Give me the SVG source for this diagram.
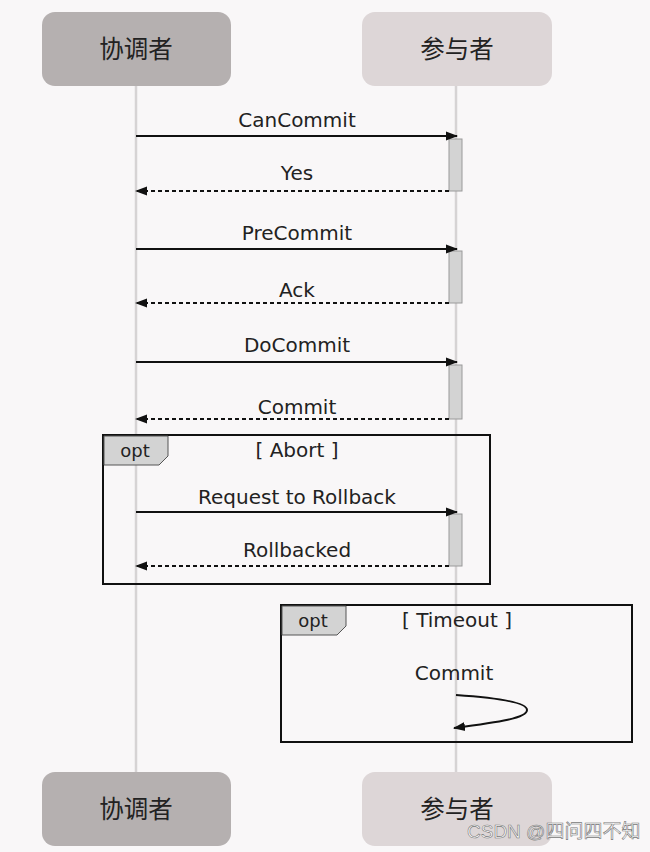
<svg xmlns="http://www.w3.org/2000/svg" width="650" height="852" viewBox="0 0 650 852">
<defs>
<marker id="ah" markerWidth="12" markerHeight="10" refX="11" refY="5" orient="auto" markerUnits="userSpaceOnUse">
<path d="M0,0.5 L12,5 L0,9.5 Z" fill="#111"/>
</marker>
<style>
.bg{fill:#f9f7f8}
.actL{fill:#b5b0b0}
.actR{fill:#ddd6d7}
.cjk{font-family:"Noto Sans CJK SC",sans-serif;font-size:24.5px;fill:#222;text-anchor:middle}
.life{stroke:#d6d3d4;stroke-width:2.5}
.msg{stroke:#111;stroke-width:2;fill:none}
.ret{stroke:#111;stroke-width:2;fill:none;stroke-dasharray:4,3}
.lbl{font-family:"DejaVu Sans",sans-serif;font-size:20px;fill:#222;text-anchor:middle}
.act{fill:#d3d3d3;stroke:#9a9a9a;stroke-width:1}
.frame{fill:none;stroke:#111;stroke-width:2}
.tab{fill:#d3d3d3;stroke:#555;stroke-width:1}
.wm{font-family:"Liberation Sans","Noto Sans CJK SC",sans-serif;font-size:19px;fill:#fff;stroke:#777;stroke-width:0.6}
</style>
</defs>
<rect class="bg" x="0" y="0" width="650" height="852"/>
<g id="lifelines">
<line class="life" x1="136" y1="86" x2="136" y2="772"/>
<line class="life" x1="456" y1="86" x2="456" y2="772"/>
</g>
<g id="coordinator-top"><rect class="actL" x="42" y="12" width="189" height="74" rx="13"/><text class="cjk" x="136" y="58">协调者</text></g>
<g id="participant-top"><rect class="actR" x="362" y="12" width="190" height="74" rx="13"/><text class="cjk" x="457" y="58">参与者</text></g>
<g id="coordinator-bottom"><rect class="actL" x="42" y="772" width="189" height="74" rx="13"/><text class="cjk" x="136" y="818">协调者</text></g>
<g id="participant-bottom"><rect class="actR" x="362" y="772" width="190" height="74" rx="13"/><text class="cjk" x="457" y="818">参与者</text></g>
<g id="activations">
<rect class="act" x="449" y="139" width="13" height="52"/>
<rect class="act" x="449" y="251" width="13" height="52"/>
<rect class="act" x="449" y="365" width="13" height="54"/>
<rect class="act" x="449" y="514" width="13" height="52"/>
</g>
<g id="frame-abort">
<rect class="frame" x="103" y="435" width="387" height="149"/>
<path class="tab" d="M104,436 L168,436 L168,456 L159,465 L104,465 Z"/>
<text class="lbl" x="135" y="457" style="font-size:18px">opt</text>
<text class="lbl" x="297" y="457">[ Abort ]</text>
</g>
<g id="frame-timeout">
<rect class="frame" x="281" y="605" width="351" height="137"/>
<path class="tab" d="M282,606 L346,606 L346,626 L337,635 L282,635 Z"/>
<text class="lbl" x="313" y="627" style="font-size:18px">opt</text>
<text class="lbl" x="457" y="627">[ Timeout ]</text>
</g>
<g id="connectors">
<line class="msg" x1="136" y1="136" x2="457" y2="136" marker-end="url(#ah)"/>
<text class="lbl" x="297" y="127">CanCommit</text>
<line class="ret" x1="449" y1="191" x2="136" y2="191" marker-end="url(#ah)"/>
<text class="lbl" x="297" y="180">Yes</text>
<line class="msg" x1="136" y1="249" x2="457" y2="249" marker-end="url(#ah)"/>
<text class="lbl" x="297" y="240">PreCommit</text>
<line class="ret" x1="449" y1="303" x2="136" y2="303" marker-end="url(#ah)"/>
<text class="lbl" x="297" y="297">Ack</text>
<line class="msg" x1="136" y1="362" x2="457" y2="362" marker-end="url(#ah)"/>
<text class="lbl" x="297" y="352">DoCommit</text>
<line class="ret" x1="449" y1="419" x2="136" y2="419" marker-end="url(#ah)"/>
<text class="lbl" x="297" y="414">Commit</text>
<line class="msg" x1="136" y1="512" x2="457" y2="512" marker-end="url(#ah)"/>
<text class="lbl" x="297" y="504">Request to Rollback</text>
<line class="ret" x1="449" y1="566" x2="136" y2="566" marker-end="url(#ah)"/>
<text class="lbl" x="297" y="557">Rollbacked</text>
<path class="msg" d="M456,695 C500,698 527,703 527,710 C527,718 500,722 454,728" marker-end="url(#ah)"/>
<text class="lbl" x="454" y="680">Commit</text>
</g>
<text class="wm" x="467" y="838">CSDN @四问四不知</text>
</svg>
